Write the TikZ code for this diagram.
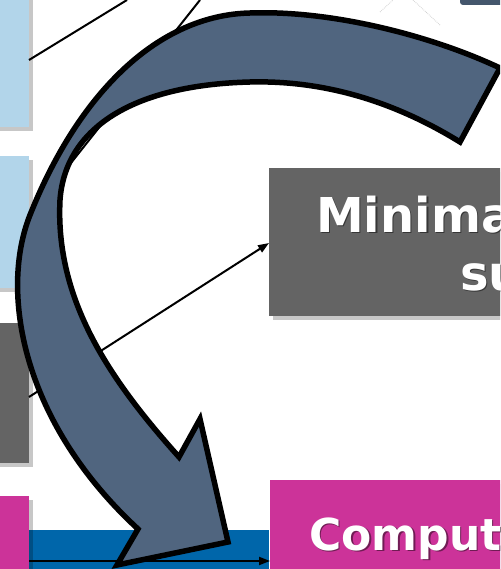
\documentclass[tikz,border=0pt]{standalone}
\usepackage{fontspec}
\setmainfont{DejaVu Sans}
\usetikzlibrary{arrows.meta, shadows}
\definecolor{paleblue}{HTML}{B2D5EA}
\definecolor{slategray}{HTML}{646464}
\definecolor{pinkbox}{HTML}{CC3399}
\definecolor{barblue}{HTML}{0066AA}
\definecolor{arrowfill}{HTML}{50657F}
\tikzset{
  box/.style={rectangle,inner sep=0pt,minimum width=80pt,
    drop shadow={shadow xshift=4pt,shadow yshift=-4pt,fill=black,opacity=0.22}},
  lightbox/.style={box,fill=paleblue},
  graybox/.style={box,fill=slategray},
  pinkbox/.style={box,fill=pinkbox},
  title/.style={inner sep=0pt,anchor=base west,text=white,
    font=\bfseries\fontsize{48}{58}\selectfont},
  link/.style={line width=2pt},
  arrowlink/.style={link,-{Triangle[length=11pt,width=8pt]}},
  bigarrow/.style={fill=arrowfill,draw=black,line width=5.5pt,line join=miter}
}

\begin{document}
\begin{tikzpicture}[x=1pt,y=-1pt]
\useasboundingbox (0,0) rectangle (500,569);
\clip (0,0) rectangle (500,569);
\fill[white] (0,0) rectangle (500,569);

\draw[gray!35,densely dotted,line width=0.8pt] (380,12) -- (393,0);
\draw[gray!35,densely dotted,line width=0.8pt] (413,0) -- (440,25);
\fill[arrowfill!85!black,rounded corners=3pt] (460,-10) rectangle (510,5);

\fill[barblue] (29,530) rectangle (269,575);

\node[lightbox,anchor=north east,minimum height=167pt] (lb1) at (29,-40) {};
\node[lightbox,anchor=north east,minimum height=132pt] (lb2) at (29,156) {};
\node[graybox,anchor=north east,minimum height=140pt] (gl) at (29,323) {};
\node[pinkbox,anchor=north east,minimum height=114pt] (pl) at (29,496) {};
\node[graybox,anchor=north west,minimum width=300pt,minimum height=148pt] (gr) at (269,168) {};
\node[pinkbox,anchor=north west,minimum width=300pt,minimum height=120pt] (pr) at (270,480) {};

\node[title,text=black,opacity=0.45] at (317.5,233.5) {Minima};
\node[title] (min1) at (316,232) {Minima};
\node[title,text=black,opacity=0.45] at (461.5,291.5) {su};
\node[title] (min2) at (460,290) {su};
\node[title,text=black,opacity=0.45,font=\bfseries\fontsize{44}{52}\selectfont] at (310.5,551.5) {Comput};
\node[title,font=\bfseries\fontsize{44}{52}\selectfont] (comp) at (309,550) {Comput};

\coordinate (out1) at (127,0);
\coordinate (out2) at (200,0);
\draw[link] (lb1.east |- 0,60) -- (out1);
\draw[link] (lb2.east |- 0,216) -- (out2);
\draw[arrowlink] (gl.east |- 0,397) -- (gr.west |- 0,243);
\draw[arrowlink] (pl.east |- 0,561) -- (pr.west |- 0,561);

\draw[bigarrow] (500,68) .. controls (430,35) and (330,10) .. (250,13)
  .. controls (160,15) and (80,90) .. (30,215)
  .. controls (0,290) and (20,420) .. (138,529)
  -- (117,565) -- (228,542) -- (200,419) -- (179,457)
  .. controls (110,380) and (55,300) .. (60,200)
  .. controls (65,130) and (130,85) .. (250,82)
  .. controls (330,80) and (400,105) .. (460,142)
  -- cycle;
\end{tikzpicture}
\end{document}
